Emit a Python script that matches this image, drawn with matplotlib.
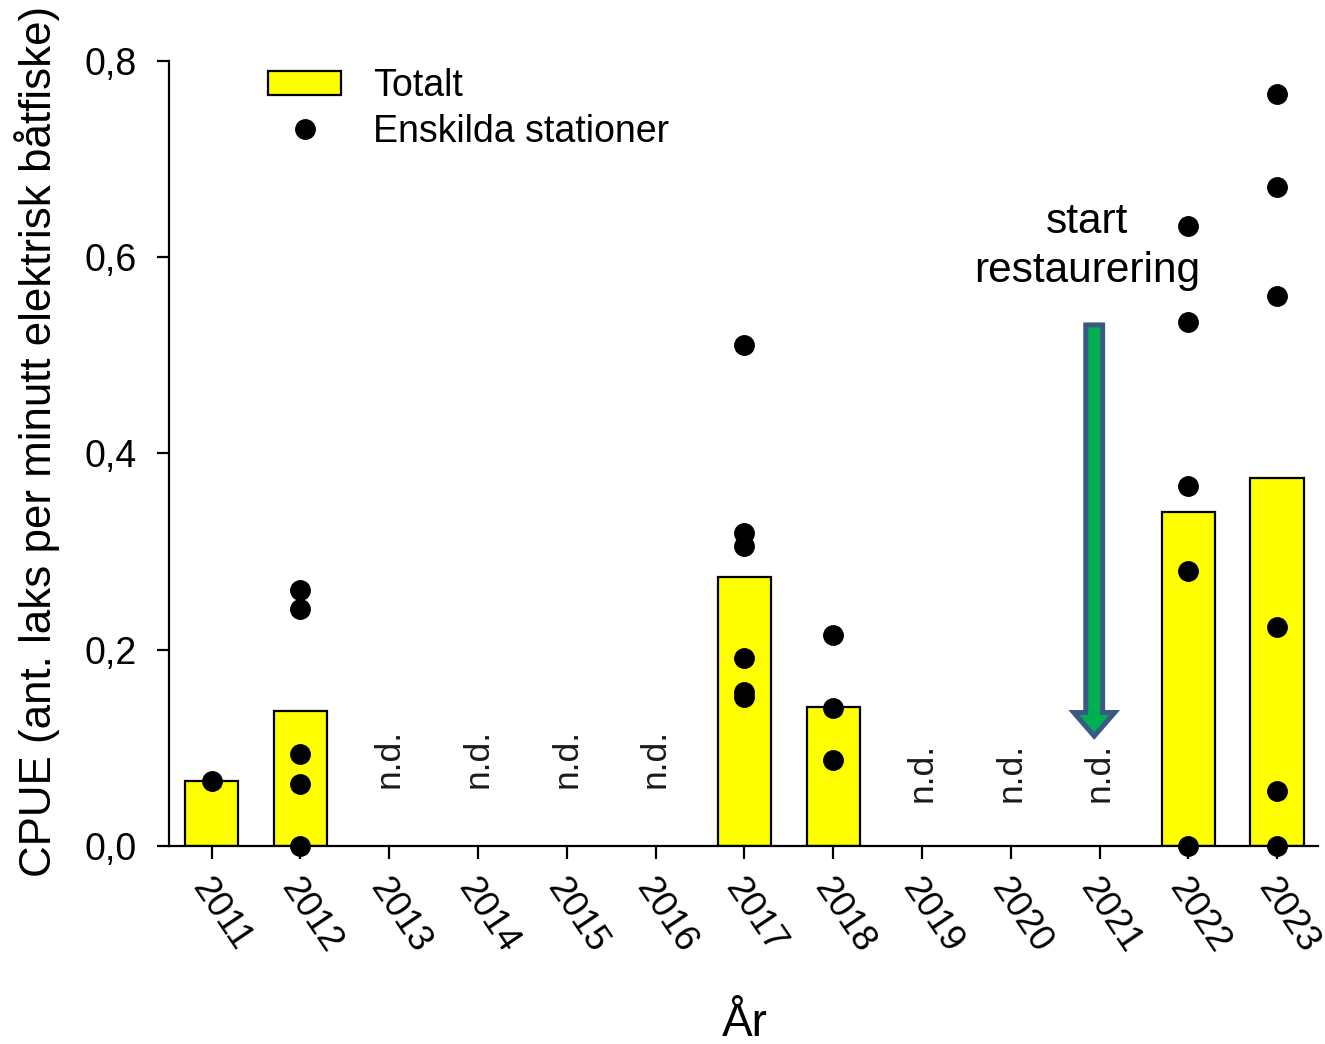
import matplotlib
matplotlib.use("Agg")
import matplotlib.pyplot as plt
from matplotlib.patches import FancyArrow, Patch
from matplotlib.lines import Line2D
from matplotlib.transforms import ScaledTranslation

plt.rcParams['font.family'] = ['Liberation Sans', 'DejaVu Sans']

# yearly data
years = [2011, 2012, 2013, 2014, 2015, 2016, 2017, 2018, 2019, 2020, 2021, 2022, 2023]
bar_years = [2011, 2012, 2017, 2018, 2022, 2023]
totalt = [0.066, 0.138, 0.274, 0.142, 0.340, 0.375]

# individual stations per year
station_years = {
    2011: [0.066],
    2012: [0.261, 0.241, 0.094, 0.063, 0.0],
    2017: [0.511, 0.319, 0.306, 0.192, 0.157, 0.152],
    2018: [0.215, 0.141, 0.088],
    2022: [0.632, 0.534, 0.367, 0.280, 0.0],
    2023: [0.766, 0.672, 0.560, 0.223, 0.056, 0.0],
}

nd_years_a = [2013, 2014, 2015, 2016]
nd_years_b = [2019, 2020, 2021]
restore_year = 2021

fig = plt.figure(figsize=(13.25, 10.44), dpi=100)
ax = fig.add_axes([0.1275, 0.1897, 0.8672, 0.7519])

ax.bar(bar_years, totalt, width=0.6, color='#FFFF00', edgecolor='black',
       linewidth=1.6, zorder=2)

for yr, vals in station_years.items():
    ax.plot([yr] * len(vals), vals, 'o', color='black', markersize=14,
            zorder=3, clip_on=False)

for yr in nd_years_a:
    ax.text(yr, 0.089, 'n.d.', rotation=90, ha='center', va='center',
            fontsize=25.5, color='#1a1a1a')
for yr in nd_years_b:
    ax.text(yr, 0.075, 'n.d.', rotation=90, ha='center', va='center',
            fontsize=25.5, color='#1a1a1a')

# arrow marking start of restoration
arrow = FancyArrow(restore_year - 0.06, 0.531, 0, -0.419, width=0.19,
                   head_width=0.46, head_length=0.024,
                   length_includes_head=True, facecolor='#00B050',
                   edgecolor='#3A5A85', linewidth=3.6, joinstyle='miter',
                   zorder=4)
ax.add_patch(arrow)
ax.text(restore_year - 0.14, 0.611, 'start\nrestaurering', ha='center',
        va='center', fontsize=30.5, linespacing=1.27)

ax.set_xlim(2010.52, 2023.46)
ax.set_ylim(0, 0.8)
ax.set_xticks(years)
ax.set_xticklabels([str(y) for y in years], rotation=-56, ha='left',
                   va='center', rotation_mode='anchor')
ax.set_yticks([0, 0.2, 0.4, 0.6, 0.8])
ax.set_yticklabels(['0,0', '0,2', '0,4', '0,6', '0,8'])
ax.tick_params(axis='both', labelsize=27, width=1.6, length=9, direction='out')
ax.tick_params(axis='y', pad=14)
ax.tick_params(axis='x', labelsize=26.5, pad=17)
shift = ScaledTranslation(-9 / 72, 0, fig.dpi_scale_trans)
for lab in ax.get_xticklabels():
    lab.set_transform(lab.get_transform() + shift)

for side in ['top', 'right']:
    ax.spines[side].set_visible(False)
for side in ['left', 'bottom']:
    ax.spines[side].set_linewidth(1.6)

ax.set_ylabel('CPUE (ant. laks per minutt elektrisk båtfiske)', fontsize=31.6)
ax.yaxis.set_label_coords(-0.095, 0.515)
ax.set_xlabel('År', fontsize=33)
ax.xaxis.set_label_coords(0.501, -0.199)

handles = [Patch(facecolor='#FFFF00', edgecolor='black', linewidth=1.6),
           Line2D([], [], marker='o', linestyle='none', color='black',
                  markersize=14)]
ax.legend(handles, ['Totalt', 'Enskilda stationer'], loc='upper left',
          bbox_to_anchor=(0.057, 1.034), frameon=False, fontsize=27,
          handlelength=1.95, handleheight=0.62, handletextpad=0.85,
          labelspacing=0.27)

fig.savefig('out.png', dpi=100)
